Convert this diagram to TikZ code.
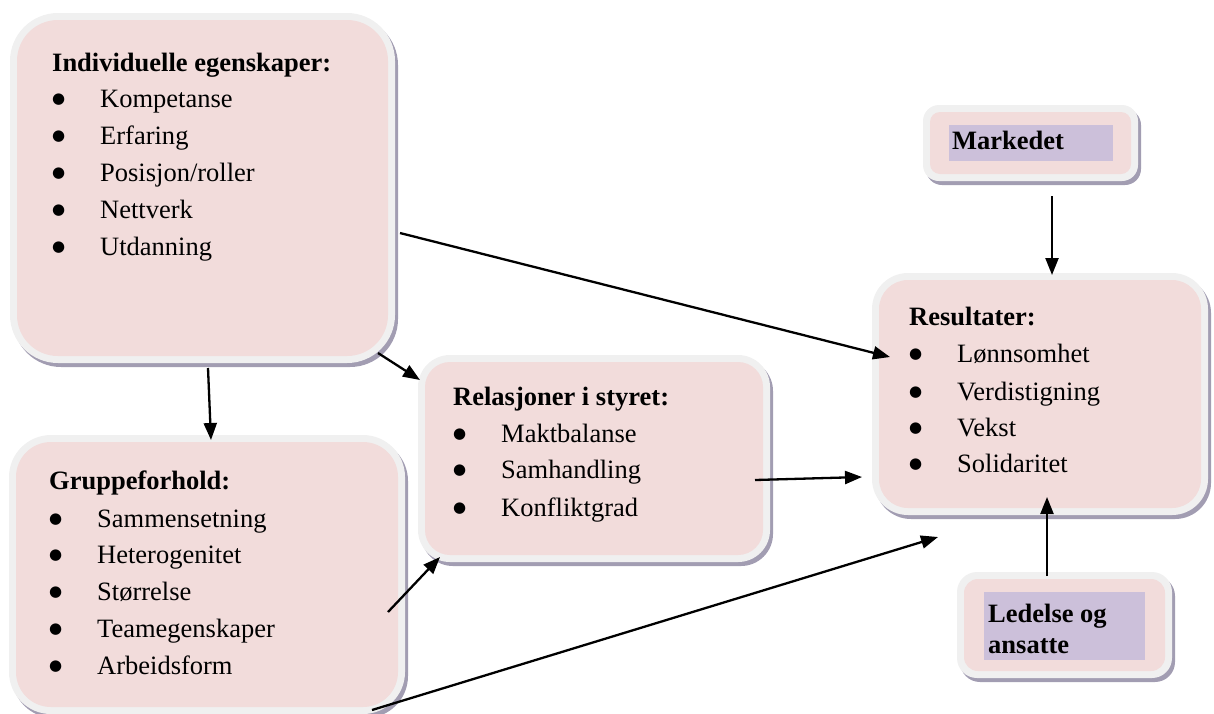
\documentclass[tikz,border=0pt]{standalone}
\usepackage{fontspec}
\setmainfont{Liberation Serif}
\newfontfamily\bulfont{DejaVu Sans}
\usetikzlibrary{shadows,arrows.meta}
\definecolor{pinkf}{RGB}{242,220,219}
\definecolor{greyf}{RGB}{240,240,240}
\definecolor{shadc}{RGB}{162,157,178}
\definecolor{lilac}{RGB}{204,192,218}
\tikzset{
  outerbox/.style={rectangle, inner sep=0pt, outer sep=0pt, fill=greyf,
    drop shadow={shadow xshift=3pt, shadow yshift=-4pt, fill=shadc, opacity=1}},
  innerbox/.style={rectangle, inner sep=0pt, outer sep=0pt, fill=pinkf},
  hlbox/.style={rectangle, inner sep=0pt, outer sep=0pt, fill=lilac},
  titletxt/.style={anchor=base west, inner sep=0pt, font=\fontsize{26.5}{37}\selectfont\bfseries},
  itemtxt/.style={anchor=base west, inner sep=0pt, font=\fontsize{26.5}{37}\selectfont},
  arr/.style={-{Triangle[length=17pt,width=13pt]}, line width=2.3pt}
}
\newcommand\bul{\makebox[48pt][l]{\raisebox{4pt}{\bulfont\fontsize{15}{15}\selectfont ●}}}
\begin{document}
\begin{tikzpicture}[x=1pt,y=-1pt]
\useasboundingbox (0,0) rectangle (1214,713);
% Individuelle egenskaper
\node[outerbox, minimum width=385pt, minimum height=350pt, rounded corners=48pt] (ind) at (202.5,188) {};
\node[innerbox, minimum width=371pt, minimum height=336pt, rounded corners=41pt] (indin) at (202.5,188) {};
\node[titletxt] (indt) at (52,71) {Individuelle egenskaper:};
\node[itemtxt] (ind1) at (52,107) {\bul Kompetanse};
\node[itemtxt] (ind2) at (52,144) {\bul Erfaring};
\node[itemtxt] (ind3) at (52,181) {\bul Posisjon/roller};
\node[itemtxt] (ind4) at (52,218) {\bul Nettverk};
\node[itemtxt] (ind5) at (52,255) {\bul Utdanning};
% Gruppeforhold
\node[outerbox, minimum width=396pt, minimum height=279pt, rounded corners=42pt] (grp) at (207,574.5) {};
\node[innerbox, minimum width=382pt, minimum height=265pt, rounded corners=35pt] (grpin) at (207,574.5) {};
\node[titletxt] (grpt) at (49,489) {Gruppeforhold:};
\node[itemtxt] (grp1) at (49,527) {\bul Sammensetning};
\node[itemtxt] (grp2) at (49,563) {\bul Heterogenitet};
\node[itemtxt] (grp3) at (49,600) {\bul Størrelse};
\node[itemtxt] (grp4) at (49,637) {\bul Teamegenskaper};
\node[itemtxt] (grp5) at (49,674) {\bul Arbeidsform};
% Relasjoner i styret
\node[outerbox, minimum width=352pt, minimum height=207pt, rounded corners=32pt] (rel) at (594,458.5) {};
\node[innerbox, minimum width=338pt, minimum height=193pt, rounded corners=25pt] (relin) at (594,458.5) {};
\node[titletxt] (relt) at (453,405) {Relasjoner i styret:};
\node[itemtxt] (rel1) at (453,442) {\bul Maktbalanse};
\node[itemtxt] (rel2) at (453,478) {\bul Samhandling};
\node[itemtxt] (rel3) at (453,516) {\bul Konfliktgrad};
% Resultater
\node[outerbox, minimum width=336pt, minimum height=242pt, rounded corners=36pt] (res) at (1040,394) {};
\node[innerbox, minimum width=322pt, minimum height=228pt, rounded corners=29pt] (resin) at (1040,394) {};
\node[titletxt] (rest) at (909,325) {Resultater:};
\node[itemtxt] (res1) at (909,362) {\bul Lønnsomhet};
\node[itemtxt] (res2) at (909,400) {\bul Verdistigning};
\node[itemtxt] (res3) at (909,436) {\bul Vekst};
\node[itemtxt] (res4) at (909,472) {\bul Solidaritet};
% Markedet
\node[outerbox, minimum width=215pt, minimum height=76pt, rounded corners=16pt] (mar) at (1030.5,143) {};
\node[innerbox, minimum width=201pt, minimum height=62pt, rounded corners=10pt] (marin) at (1030.5,143) {};
\node[hlbox, minimum width=164pt, minimum height=36pt] (marhl) at (1031,143) {};
\node[titletxt] (mart) at (952,149) {Markedet};
% Ledelse og ansatte
\node[outerbox, minimum width=215pt, minimum height=106pt, rounded corners=20pt] (led) at (1064.5,625) {};
\node[innerbox, minimum width=201pt, minimum height=92pt, rounded corners=14pt] (ledin) at (1064.5,625) {};
\node[hlbox, minimum width=161pt, minimum height=68pt] (ledhl) at (1064.5,626) {};
\node[titletxt] (ledt1) at (988,622) {Ledelse og};
\node[titletxt] (ledt2) at (988,653) {ansatte};
% connector end points
\coordinate (a1s) at (208,368);  \coordinate (a1e) at (211,440);
\coordinate (a2s) at (378,353);  \coordinate (a2e) at (420,380);
\coordinate (a3s) at (400,233);  \coordinate (a3e) at (890,357);
\coordinate (a4s) at (755,480);  \coordinate (a4e) at (862,477);
\coordinate (a5s) at (388,612);  \coordinate (a5e) at (440,557);
\coordinate (a6s) at (372,710);  \coordinate (a6e) at (938,537);
\coordinate (a7s) at (1052,196); \coordinate (a7e) at (1052,275);
\coordinate (a8s) at (1047,576); \coordinate (a8e) at (1047,497);
\draw[arr] (a1s) -- (a1e);
\draw[arr] (a2s) -- (a2e);
\draw[arr] (a3s) -- (a3e);
\draw[arr] (a4s) -- (a4e);
\draw[arr] (a5s) -- (a5e);
\draw[arr] (a6s) -- (a6e);
\draw[arr] (a7s) -- (a7e);
\draw[arr] (a8s) -- (a8e);
\end{tikzpicture}
\end{document}
